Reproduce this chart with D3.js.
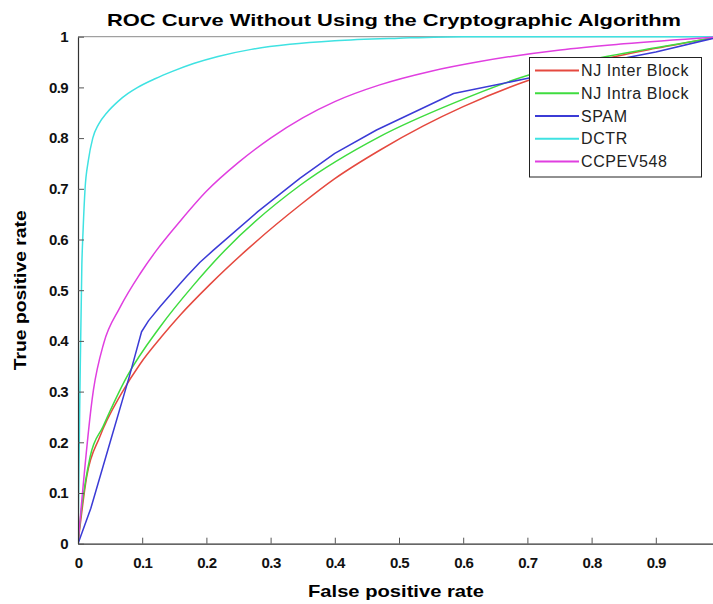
<!DOCTYPE html>
<html>
<head>
<meta charset="utf-8">
<script src="https://cdn.jsdelivr.net/npm/d3@7/dist/d3.min.js"></script>
<style>
  html, body { margin: 0; padding: 0; background: #fff; }
  svg { display: block; }
</style>
</head>
<body>
<svg id="chart" width="713" height="604"></svg>
<script>
// ROC curves: [false positive rate, true positive rate] pairs per detector
const seriesNames = ["NJ Inter Block", "NJ Intra Block", "SPAM", "DCTR", "CCPEV548"];
const seriesColors = ["#e5493f", "#3fdc3f", "#3b3bd6", "#3fe2e2", "#e03fe0"];

const njInter = [[0,0],[0.0135,0.132],[0.034,0.211],[0.068,0.297],[0.097,0.355],[0.13,0.408],[0.16,0.452],[0.206,0.512],[0.265,0.582],[0.346,0.668],[0.40,0.72],[0.47,0.776],[0.538,0.824],[0.60,0.862],[0.70,0.913],[0.80,0.950],[0.90,0.977],[1,1]];
const njIntra = [[0,0],[0.003,0.04],[0.019,0.172],[0.039,0.231],[0.076,0.329],[0.128,0.428],[0.18,0.51],[0.229,0.579],[0.346,0.707],[0.47,0.803],[0.585,0.869],[0.701,0.924],[0.80,0.955],[0.90,0.978],[1,1]];
const spam = [[0,0],[0.02,0.07],[0.05,0.2],[0.08,0.33],[0.099,0.418],[0.11,0.44],[0.128,0.468],[0.15,0.50],[0.169,0.527],[0.19,0.555],[0.211,0.579],[0.28,0.655],[0.346,0.721],[0.40,0.77],[0.465,0.816],[0.585,0.888],[0.701,0.918],[0.80,0.945],[0.90,0.97],[1,1]];
const dctr = [[0,0],[0.003,0.3],[0.006,0.55],[0.008,0.62],[0.011,0.7],[0.016,0.755],[0.023,0.8],[0.032,0.827],[0.045,0.85],[0.062,0.872],[0.078,0.888],[0.093,0.9],[0.12,0.917],[0.148,0.932],[0.18,0.947],[0.218,0.961],[0.27,0.975],[0.33,0.985],[0.4,0.992],[0.5,0.997],[0.6,1.0],[1,1]];
const ccpev548 = [[0,0],[0.024,0.303],[0.04,0.395],[0.065,0.465],[0.097,0.533],[0.1225,0.579],[0.159,0.636],[0.2,0.695],[0.25,0.752],[0.3,0.80],[0.35,0.84],[0.40,0.872],[0.47,0.905],[0.55,0.932],[0.626,0.951],[0.751,0.974],[0.85,0.986],[1,1]];

const seriesData = [njInter, njIntra, spam, dctr, ccpev548];

const xTicks = [0, 0.1, 0.2, 0.3, 0.4, 0.5, 0.6, 0.7, 0.8, 0.9];
const yTicks = [0, 0.1, 0.2, 0.3, 0.4, 0.5, 0.6, 0.7, 0.8, 0.9, 1];

const titleText = "ROC Curve Without Using the Cryptographic Algorithm";
const xLabelText = "False positive rate";
const yLabelText = "True positive rate";

const svg = d3.select("#chart");
const plotLeft = 78, plotRight = 720, plotTop = 36.7, plotBottom = 543.7;

const x = d3.scaleLinear().domain([0, 1]).range([plotLeft, plotRight]);
const y = d3.scaleLinear().domain([0, 1]).range([plotBottom, plotTop]);

const fmt = v => v === 0 ? "0" : (v === 1 ? "1" : v.toFixed(1));
const fontFam = "'Liberation Sans', Arial, sans-serif";

svg.append("clipPath").attr("id", "plotClip")
  .append("rect").attr("x", plotLeft).attr("y", plotTop - 2)
  .attr("width", plotRight - plotLeft).attr("height", plotBottom - plotTop + 2);

// box outline (top and right edges)
svg.append("line").attr("x1", plotLeft).attr("x2", plotRight).attr("y1", plotTop).attr("y2", plotTop)
  .attr("stroke", "#8a8a8a").attr("stroke-width", 1);
svg.append("line").attr("x1", plotRight).attr("x2", plotRight).attr("y1", plotTop).attr("y2", plotBottom)
  .attr("stroke", "#8a8a8a").attr("stroke-width", 1);

// curves: SPAM keeps its sharp corners, the others are drawn smooth
const curves = svg.append("g").attr("clip-path", "url(#plotClip)");
seriesData.forEach((s, i) => {
  const line = d3.line().x(d => x(d[0])).y(d => y(d[1]))
    .curve(seriesNames[i] === "SPAM" ? d3.curveLinear : d3.curveMonotoneX);
  curves.append("path").datum(s)
    .attr("d", line)
    .attr("fill", "none")
    .attr("stroke", seriesColors[i])
    .attr("stroke-width", 1.5)
    .attr("stroke-linejoin", "round");
});

// x axis
const xAxis = svg.append("g").attr("transform", `translate(0,${plotBottom})`)
  .call(d3.axisBottom(x).tickValues(xTicks).tickFormat(fmt).tickSizeInner(-6).tickSizeOuter(0).tickPadding(14));
xAxis.select(".domain").attr("stroke", "#333").attr("stroke-width", 1.2);
xAxis.selectAll(".tick line").attr("stroke", "#555");
xAxis.selectAll(".tick text")
  .attr("font-family", fontFam).attr("font-size", 15).attr("font-weight", "bold")
  .attr("fill", "#111").attr("letter-spacing", -0.6);

// y axis
const yAxis = svg.append("g").attr("transform", `translate(${plotLeft},0)`)
  .call(d3.axisLeft(y).tickValues(yTicks).tickFormat(fmt).tickSizeInner(-6).tickSizeOuter(0).tickPadding(10));
yAxis.select(".domain").attr("stroke", "#333").attr("stroke-width", 1.2);
yAxis.selectAll(".tick line").attr("stroke", "#555");
yAxis.selectAll(".tick text")
  .attr("font-family", fontFam).attr("font-size", 15).attr("font-weight", "bold")
  .attr("fill", "#111").attr("letter-spacing", -0.6);

// title and axis labels
svg.append("text").attr("x", 394).attr("y", 26)
  .attr("text-anchor", "middle")
  .attr("font-family", fontFam).attr("font-size", 17).attr("font-weight", "bold")
  .attr("fill", "#000")
  .attr("textLength", 574).attr("lengthAdjust", "spacingAndGlyphs")
  .text(titleText);

svg.append("text").attr("x", 396).attr("y", 597)
  .attr("text-anchor", "middle")
  .attr("font-family", fontFam).attr("font-size", 17).attr("font-weight", "bold")
  .attr("fill", "#000")
  .attr("textLength", 176).attr("lengthAdjust", "spacingAndGlyphs")
  .text(xLabelText);

svg.append("text")
  .attr("transform", `translate(26,${(plotTop + plotBottom) / 2}) rotate(-90)`)
  .attr("text-anchor", "middle")
  .attr("font-family", fontFam).attr("font-size", 17).attr("font-weight", "bold")
  .attr("fill", "#000")
  .attr("textLength", 160).attr("lengthAdjust", "spacingAndGlyphs")
  .text(yLabelText);

// legend
const lg = svg.append("g");
lg.append("rect").attr("x", 529.5).attr("y", 57.5).attr("width", 172).attr("height", 119.5)
  .attr("fill", "#fff").attr("stroke", "#222").attr("stroke-width", 1);
const rowY = d3.scaleLinear().domain([0, seriesNames.length - 1]).range([70.5, 161.5]);
seriesNames.forEach((name, i) => {
  lg.append("line")
    .attr("x1", 535).attr("x2", 579).attr("y1", rowY(i)).attr("y2", rowY(i))
    .attr("stroke", seriesColors[i]).attr("stroke-width", 2);
  lg.append("text")
    .attr("x", 581).attr("y", rowY(i) + 5.5)
    .attr("font-family", fontFam).attr("font-size", 16)
    .attr("fill", "#222").attr("letter-spacing", 0.6)
    .text(name);
});
</script>
</body>
</html>
